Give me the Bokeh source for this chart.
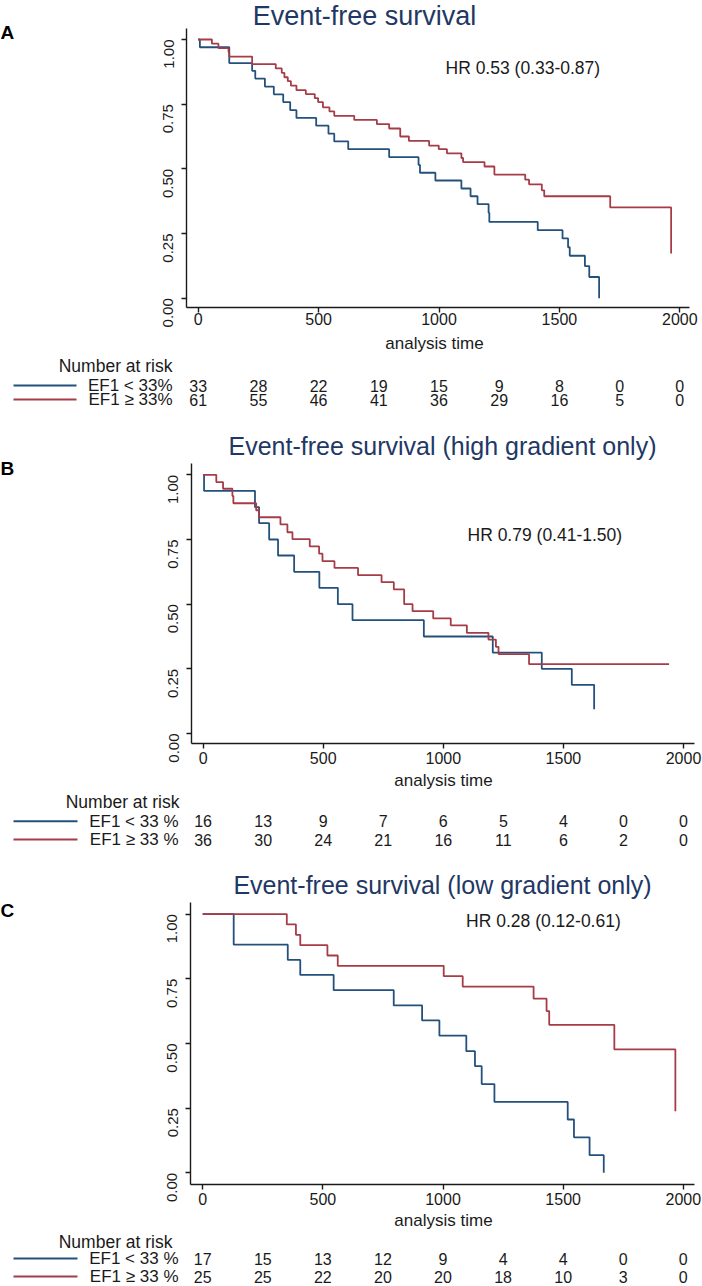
import math
from bokeh.plotting import figure
from bokeh.models import Range1d, FixedTicker, NumeralTickFormatter, Label, ColumnDataSource, LabelSet
from bokeh.core.properties import value
from bokeh.layouts import column, row
from bokeh.embed import file_html
from bokeh.resources import INLINE

FONT = "Liberation Sans"
BLUE = "#24517c"
RED = "#a63c47"
NAVY = "#1f3864"
INK = "#1a1a1a"

# ---------------- data ----------------
x_ticks = [0, 500, 1000, 1500, 2000]
y_ticks = [0, 0.25, 0.5, 0.75, 1.0]
risk_times = [0, 250, 500, 750, 1000, 1250, 1500, 1750, 2000]

# Panel A: event-free survival
a_blue_t = [0, 7, 129, 224, 237, 277, 314, 353, 382, 408, 490, 541, 565, 623, 793,
            915, 921, 985, 1093, 1131, 1160, 1206, 1209, 1410, 1513, 1536, 1543,
            1606, 1624, 1665]
a_blue_s = [1.0, 0.970, 0.909, 0.879, 0.849, 0.818, 0.788, 0.758, 0.727, 0.697, 0.667,
            0.636, 0.606, 0.576, 0.545, 0.515, 0.485, 0.455, 0.424, 0.394, 0.364,
            0.330, 0.295, 0.263, 0.231, 0.197, 0.164, 0.124, 0.082, 0.0]
a_red_t = [0, 57, 84, 126, 129, 224, 322, 347, 358, 372, 385, 408, 447, 484, 498, 518,
           545, 565, 648, 742, 793, 839, 875, 959, 999, 1033, 1093, 1100, 1189, 1230,
           1358, 1374, 1427, 1437, 1711, 1964]
a_red_s = [1.0, 0.984, 0.967, 0.951, 0.934, 0.905, 0.888, 0.871, 0.854, 0.839, 0.822,
           0.804, 0.789, 0.773, 0.758, 0.738, 0.722, 0.705, 0.689, 0.673, 0.656, 0.625,
           0.608, 0.590, 0.576, 0.560, 0.542, 0.526, 0.509, 0.478, 0.458, 0.440, 0.417,
           0.394, 0.351, 0.173]
a_risk_blue = [33, 28, 22, 19, 15, 9, 8, 0, 0]
a_risk_red = [61, 55, 46, 41, 36, 29, 16, 5, 0]
a_labels = ["EF1 < 33%", "EF1 \u2265 33%"]
a_title = "Event-free survival"
a_hr = "HR 0.53 (0.33-0.87)"

# Panel B: high gradient only
b_blue_t = [0, 4, 216, 233, 275, 312, 379, 484, 561, 622, 919, 1206, 1410, 1535, 1628]
b_blue_s = [1.0, 0.938, 0.875, 0.813, 0.750, 0.688, 0.625, 0.563, 0.500, 0.438, 0.375,
            0.313, 0.250, 0.188, 0.094]
b_red_t = [0, 55, 83, 122, 126, 221, 233, 322, 351, 372, 444, 483, 497, 547, 645, 743,
           794, 837, 872, 958, 1031, 1098, 1188, 1219, 1230, 1357, 1940]
b_red_s = [1.0, 0.972, 0.946, 0.918, 0.890, 0.863, 0.836, 0.808, 0.778, 0.751, 0.723,
           0.695, 0.666, 0.640, 0.612, 0.585, 0.557, 0.500, 0.473, 0.445, 0.418, 0.389,
           0.363, 0.335, 0.307, 0.268, 0.268]
b_risk_blue = [16, 13, 9, 7, 6, 5, 4, 0, 0]
b_risk_red = [36, 30, 24, 21, 16, 11, 6, 2, 0]
b_labels = ["EF1 < 33 %", "EF1 \u2265 33 %"]
b_title = "Event-free survival (high gradient only)"
b_hr = "HR 0.79 (0.41-1.50)"

# Panel C: low gradient only
c_blue_t = [0, 129, 354, 406, 545, 795, 913, 985, 1097, 1133, 1161, 1214, 1519, 1545,
            1610, 1669]
c_blue_s = [1.0, 0.882, 0.823, 0.765, 0.706, 0.647, 0.589, 0.530, 0.470, 0.412, 0.343,
            0.274, 0.206, 0.137, 0.068, 0.0]
c_red_t = [0, 350, 388, 406, 519, 562, 1003, 1082, 1377, 1431, 1442, 1713, 1967]
c_red_s = [1.0, 0.960, 0.920, 0.880, 0.840, 0.800, 0.760, 0.720, 0.673, 0.625, 0.572,
           0.477, 0.238]
c_risk_blue = [17, 15, 13, 12, 9, 4, 4, 0, 0]
c_risk_red = [25, 25, 22, 20, 20, 18, 10, 3, 0]
c_labels = ["EF1 < 33 %", "EF1 \u2265 33 %"]
c_title = "Event-free survival (low gradient only)"
c_hr = "HR 0.28 (0.12-0.61)"

W = 702
LETTER_W = 150


def blank(width, height, x_range, y_range):
    p = figure(width=width, height=height, output_backend="svg", toolbar_location=None,
               x_axis_type=None, y_axis_type=None, x_range=x_range, y_range=y_range,
               min_border=0)
    p.outline_line_color = None
    p.background_fill_color = "white"
    p.border_fill_color = "white"
    p.xgrid.visible = False
    p.ygrid.visible = False
    return p


def txt(p, x, y, text, size, align="left", color=INK, style="normal"):
    p.add_layout(Label(x=x, y=y, text=text, text_align=align, text_baseline="middle",
                       text_font=FONT, text_font_size=size, text_color=color,
                       text_font_style=style))


def make_panel(letter, title, hr, blue, red, risk_blue, risk_red, labels, g):
    # g holds pixel positions inside the panel (layout only)
    kw = W - LETTER_W
    kh = g["km_h"]
    fl, fr, fb = g["fl"], g["fr"], g["fb"]           # frame left/right/bottom, top = 0
    s = (g["t2000"] - g["t0"]) / 2000.0               # px per time unit
    v = g["s0"] - g["s1"]                             # px per survival unit

    def dx(px):
        return (px - g["t0"]) / s

    def dy(py):
        return (g["s0"] - py) / v

    x0, x1 = dx(fl), dx(fr)
    km = figure(width=kw, height=kh, output_backend="svg", toolbar_location=None,
                x_range=Range1d(x0, x1), y_range=Range1d(dy(fb), dy(0)),
                min_border_left=fl - LETTER_W, min_border_right=W - fr,
                min_border_top=0, min_border_bottom=kh - fb)
    km.outline_line_color = None
    km.background_fill_color = "white"
    km.border_fill_color = "white"
    km.xgrid.visible = False
    km.ygrid.visible = False
    for ax in (km.xaxis[0], km.yaxis[0]):
        ax.axis_line_color = INK
        ax.axis_line_width = 1.4
        ax.major_tick_line_color = INK
        ax.major_tick_line_width = 1.4
        ax.major_tick_in = 0
        ax.minor_tick_out = 0
        ax.minor_tick_in = 0
        ax.major_label_text_font = FONT
        ax.major_label_text_color = INK
    km.xaxis.ticker = FixedTicker(ticks=x_ticks)
    km.yaxis.ticker = FixedTicker(ticks=y_ticks)
    km.yaxis.bounds = (dy(fb), dy(g["axis_top"]))
    km.yaxis.formatter = NumeralTickFormatter(format="0.00")
    km.yaxis.major_label_orientation = math.pi / 2
    km.yaxis.major_label_text_font_size = "15px"
    km.yaxis.major_label_standoff = 13
    km.yaxis.major_tick_out = 5
    km.xaxis.major_label_text_font_size = "16px"
    km.xaxis.major_tick_out = 5
    km.xaxis.major_label_standoff = g["xstand"]

    km.step(blue[0], blue[1], mode="after", line_color=BLUE, line_width=1.8)
    km.step(red[0], red[1], mode="after", line_color=RED, line_width=1.8)
    txt(km, dx(g["hr"][0]), dy(g["hr"][1]), hr, "17.5px")
    txt(km, dx(g["title"][0]), dy(g["title"][1]), title, g["title_size"], "center", NAVY)

    # ---- panel letter, left of the survival plot
    lt = blank(LETTER_W, kh, Range1d(0, LETTER_W), Range1d(kh, 0))
    txt(lt, 0, g["letter_y"], letter, "19px", style="bold", color="black")

    # ---- number-at-risk table, x aligned with the survival plot's time scale
    tx0 = dx(0)
    tx1 = dx(W)
    th = g["tab_h"]
    tab = blank(W, th, Range1d(tx0, tx1), Range1d(th, 0))

    txt(tab, dx(g["axlab_x"]), g["axlab_y"], "analysis time", "17px", "center")
    txt(tab, dx(g["nar_x"]), g["nar_y"], "Number at risk", "17.5px", "right")
    for counts, lab, col, ry in ((risk_blue, labels[0], BLUE, g["row_y"][0]),
                                 (risk_red, labels[1], RED, g["row_y"][1])):
        src = ColumnDataSource(dict(x=risk_times, y=[ry] * len(risk_times),
                                    text=[str(c) for c in counts]))
        tab.add_layout(LabelSet(x="x", y="y", text="text", source=src,
                                text_align="center", text_baseline="middle",
                                text_font=value(FONT), text_font_size=value("16px"),
                                text_color=INK))
        txt(tab, dx(g["row_x"]), ry, lab, "17px", "right")
        tab.line([dx(g["leg_x"][0]), dx(g["leg_x"][1])], [ry, ry], line_color=col,
                 line_width=2)
    return [row(lt, km), tab]


geom_a = dict(km_h=331, fl=186, fr=689, fb=307, axis_top=28, s1=39, s0=297.7,
              t0=197.7, t2000=679.3, xstand=0,
              title=(364, 15.5), title_size="27px", hr=(445, 67.5), letter_y=34,
              tab_h=89, axlab_x=434, axlab_y=12, nar_x=172, nar_y=34,
              row_x=172, row_y=(54, 68), leg_x=(13, 76))
geom_b = dict(km_h=350, fl=191, fr=694, fb=323, axis_top=43, s1=54.3, s0=313,
              t0=202.6, t2000=683, xstand=3,
              title=(442, 25), title_size="25px", hr=(467, 114.5), letter_y=51.5,
              tab_h=88, axlab_x=443, axlab_y=10, nar_x=179, nar_y=31,
              row_x=178, row_y=(50.7, 69), leg_x=(13, 77))
geom_c = dict(km_h=353, fl=190, fr=694, fb=326, axis_top=44, s1=55.6, s0=314.3,
              t0=202.2, t2000=682.8, xstand=3,
              title=(442, 26), title_size="25px", hr=(465.6, 62.8), letter_y=56,
              tab_h=75, axlab_x=443, axlab_y=9, nar_x=172, nar_y=30,
              row_x=178, row_y=(47, 65), leg_x=(13, 77))

items = []
items += make_panel("A", a_title, a_hr, (a_blue_t, a_blue_s), (a_red_t, a_red_s),
                    a_risk_blue, a_risk_red, a_labels, geom_a)
items += make_panel("B", b_title, b_hr, (b_blue_t, b_blue_s), (b_red_t, b_red_s),
                    b_risk_blue, b_risk_red, b_labels, geom_b)
items += make_panel("C", c_title, c_hr, (c_blue_t, c_blue_s), (c_red_t, c_red_s),
                    c_risk_blue, c_risk_red, c_labels, geom_c)

layout = column(*items)
open("out.html", "w").write(file_html(layout, INLINE))
